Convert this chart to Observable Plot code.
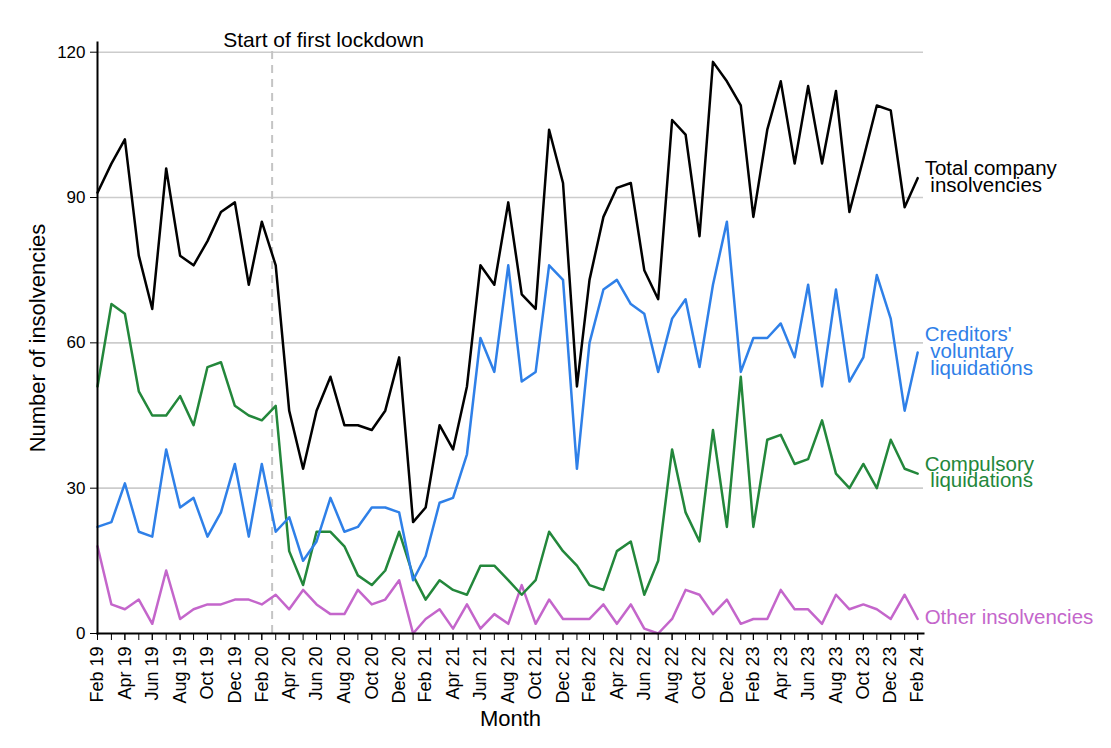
<!DOCTYPE html>
<html>
<head>
<meta charset="utf-8">
<script src="https://cdn.jsdelivr.net/npm/d3@7"></script>
<script src="https://cdn.jsdelivr.net/npm/@observablehq/plot@0.6"></script>
<style>
  html, body { margin: 0; padding: 0; background: #ffffff; }
  #chart { width: 1111px; height: 748px; }
</style>
</head>
<body>
<div id="chart"></div>
<script>
// Month keys (data points are month-end figures)
const months = [
  "2019-02","2019-03","2019-04","2019-05","2019-06","2019-07","2019-08","2019-09","2019-10","2019-11","2019-12",
  "2020-01","2020-02","2020-03","2020-04","2020-05","2020-06","2020-07","2020-08","2020-09","2020-10","2020-11","2020-12",
  "2021-01","2021-02","2021-03","2021-04","2021-05","2021-06","2021-07","2021-08","2021-09","2021-10","2021-11","2021-12",
  "2022-01","2022-02","2022-03","2022-04","2022-05","2022-06","2022-07","2022-08","2022-09","2022-10","2022-11","2022-12",
  "2023-01","2023-02","2023-03","2023-04","2023-05","2023-06","2023-07","2023-08","2023-09","2023-10","2023-11","2023-12",
  "2024-01","2024-02"
];

const total = [91,97,102,78,67,96,78,76,81,87,89,72,85,76,46,34,46,53,43,43,42,46,57,23,26,43,38,51,76,72,89,70,67,104,93,51,73,86,92,93,75,69,106,103,82,118,114,109,86,104,114,97,113,97,112,87,98,109,108,88,94];
const creditorsVoluntary = [22,23,31,21,20,38,26,28,20,25,35,20,35,21,24,15,19,28,21,22,26,26,25,11,16,27,28,37,61,54,76,52,54,76,73,34,60,71,73,68,66,54,65,69,55,72,85,54,61,61,64,57,72,51,71,52,57,74,65,46,58];
const compulsory = [51,68,66,50,45,45,49,43,55,56,47,45,44,47,17,10,21,21,18,12,10,13,21,12,7,11,9,8,14,14,11,8,11,21,17,14,10,9,17,19,8,15,38,25,19,42,22,53,22,40,41,35,36,44,33,30,35,30,40,34,33];
const other = [18,6,5,7,2,13,3,5,6,6,7,7,6,8,5,9,6,4,4,9,6,7,11,0,3,5,1,6,1,4,2,10,2,7,3,3,3,6,2,6,1,0,3,9,8,4,7,2,3,3,9,5,5,2,8,5,6,5,3,8,3];

const seriesLabels = ["Total company\n\u00a0insolvencies", "Creditors'\n\u00a0voluntary\n\u00a0liquidations", "Compulsory\n\u00a0liquidations", "Other insolvencies"];
const seriesColors = ["#000000", "#2f80e8", "#23873b", "#c466cb"];
const yTicks = [0, 30, 60, 90, 120];
const gridValues = [30, 60, 90, 120];
const lockdownDate = "2020-03-23";
const lockdownLabel = "Start of first lockdown";
const xDomainEnd = "2024-03-13";

// month-end dates
const dates = months.map(m => new Date(d3.utcDay.offset(d3.utcMonth.offset(new Date(m + "-01T00:00:00Z"), 1), -1)));
const seriesValues = [total, creditorsVoluntary, compulsory, other];

const rowsFor = (k) => seriesValues[k].map((v, i) => ({date: dates[i], value: v, series: seriesLabels[k]}));
const allRows = seriesValues.map((_, k) => rowsFor(k));
const lastRows = allRows.map((rows, k) => ({...rows[rows.length - 1], color: seriesColors[k]}));
const labelTicks = dates.filter((d, i) => i % 2 === 0);
const lockdown = new Date(lockdownDate + "T00:00:00Z");

const FONT = "'Liberation Sans', Arial, Helvetica, sans-serif";

const chart = Plot.plot({
  width: 1111,
  height: 748,
  marginLeft: 97,
  marginRight: 188,
  marginTop: 42,
  marginBottom: 115,
  style: {fontFamily: FONT, background: "#ffffff", color: "#000000"},
  x: {type: "utc", domain: [dates[0], new Date(xDomainEnd + "T00:00:00Z")]},
  y: {domain: [0, 122]},
  marks: [
    Plot.ruleY(gridValues, {stroke: "#cccccc", strokeWidth: 1.6}),
    Plot.ruleX([lockdown], {y1: 0, y2: 121, stroke: "#c4c4c4", strokeWidth: 2, strokeDasharray: "8,6"}),
    Plot.text([{date: lockdown, y: 120, label: lockdownLabel}], {
      x: "date", y: "y", text: "label", textAnchor: "start", lineAnchor: "middle",
      dx: -49, dy: -12, fontSize: 21, fill: "#000000"
    }),
    Plot.line(allRows[3], {x: "date", y: "value", stroke: seriesColors[3], strokeWidth: 2.5}),
    Plot.line(allRows[2], {x: "date", y: "value", stroke: seriesColors[2], strokeWidth: 2.5}),
    Plot.line(allRows[1], {x: "date", y: "value", stroke: seriesColors[1], strokeWidth: 2.5}),
    Plot.line(allRows[0], {x: "date", y: "value", stroke: seriesColors[0], strokeWidth: 2.5}),
    Plot.text(lastRows, {
      x: "date", y: "value", text: "series", fill: "color",
      textAnchor: "start", lineAnchor: "middle", lineHeight: 0.82, dx: 7, fontSize: 20.5
    }),
    Plot.frame({anchor: "left", stroke: "#000000", strokeWidth: 2}),
    Plot.frame({anchor: "bottom", stroke: "#000000", strokeWidth: 2}),
    Plot.axisY({
      ticks: yTicks, tickSize: 7, tickPadding: 5, fontSize: 17,
      label: "Number of insolvencies", labelAnchor: "center", labelArrow: "none", labelOffset: 68
    }),
    Plot.axisX({ticks: dates, tickFormat: () => "", tickSize: 7, label: null}),
    Plot.axisX({
      ticks: labelTicks, tickFormat: d3.utcFormat("%b %y"), tickRotate: -90, tickSize: 7, tickPadding: 6,
      fontSize: 18, label: "Month", labelAnchor: "center", labelArrow: "none", labelOffset: 92
    })
  ]
});

chart.querySelectorAll("g[aria-label='y-axis label'] text, g[aria-label='x-axis label'] text").forEach(t => {
  t.setAttribute("font-size", "22");
});
document.getElementById("chart").appendChild(chart);
</script>
</body>
</html>
